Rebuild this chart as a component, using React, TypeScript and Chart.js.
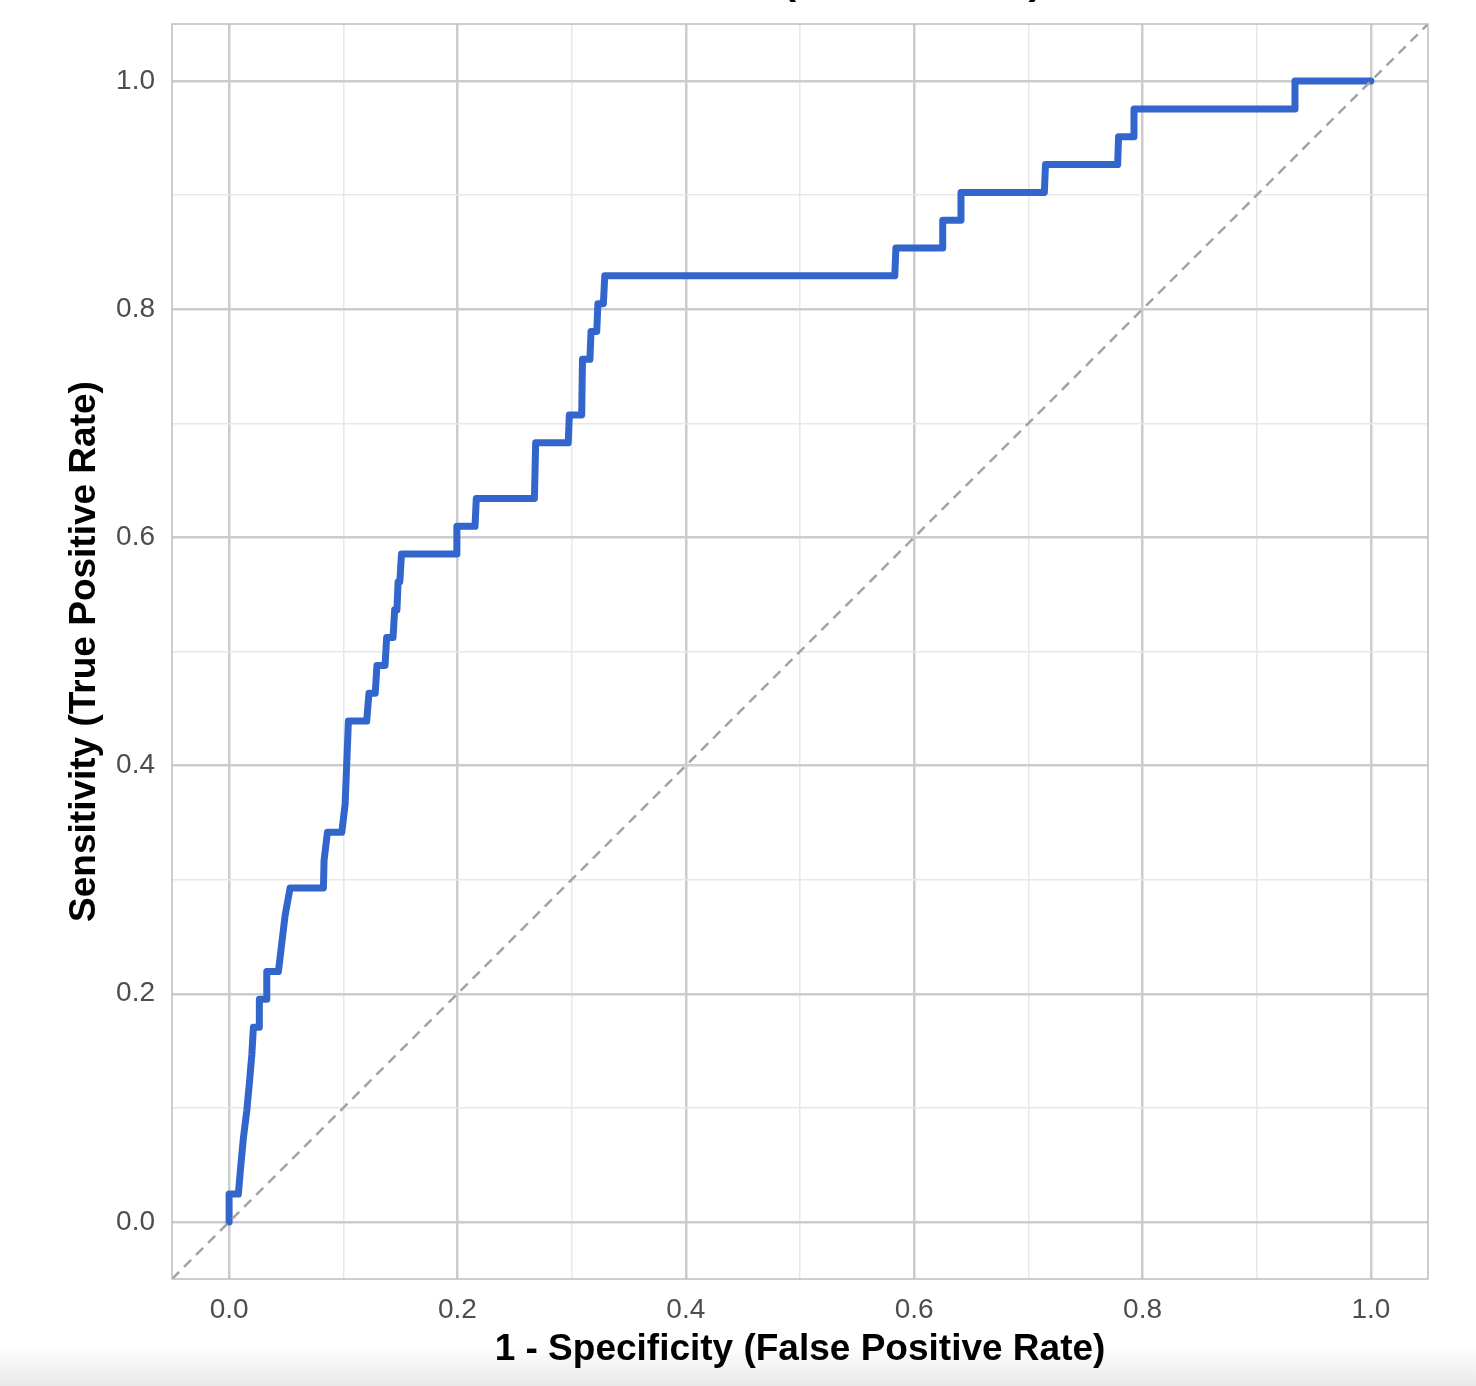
import React, { useEffect, useRef } from "react";
import { Chart, registerables } from "chart.js";

Chart.register(...registerables);

// ROC curve vertices (1 - specificity, sensitivity)
const fprValues = [
  0, 0, 0.0081, 0.0102, 0.0125, 0.0155, 0.0178, 0.0199, 0.0213, 0.0265, 0.0265,
  0.033, 0.033, 0.0432, 0.0461, 0.049, 0.0534, 0.0826, 0.0832, 0.0861, 0.0987,
  0.1016, 0.1045, 0.1205, 0.1225, 0.128, 0.1295, 0.1366, 0.138, 0.1436, 0.145,
  0.147, 0.148, 0.1495, 0.151, 0.1988, 0.1995, 0.2154, 0.2165, 0.2674, 0.2685,
  0.297, 0.298, 0.3088, 0.3095, 0.316, 0.317, 0.322, 0.323, 0.3278, 0.329,
  0.583, 0.584, 0.6245, 0.625, 0.6405, 0.641, 0.714, 0.715, 0.7782, 0.779,
  0.792, 0.7925, 0.9329, 0.9335, 1.0,
];
const tprValues = [
  0, 0.0244, 0.0244, 0.0488, 0.0732, 0.0976, 0.122, 0.1463, 0.1707, 0.1707, 0.1951,
  0.1951, 0.2195, 0.2195, 0.2439, 0.2683, 0.2927, 0.2927, 0.3171, 0.3415, 0.3415,
  0.3659, 0.439, 0.439, 0.4634, 0.4634, 0.4878, 0.4878, 0.5122, 0.5122, 0.5366,
  0.5366, 0.561, 0.561, 0.5854, 0.5854, 0.6098, 0.6098, 0.6341, 0.6341, 0.6829,
  0.6829, 0.7073, 0.7073, 0.7561, 0.7561, 0.7805, 0.7805, 0.8049, 0.8049, 0.8293,
  0.8293, 0.8537, 0.8537, 0.878, 0.878, 0.9024, 0.9024, 0.9268, 0.9268, 0.9512,
  0.9512, 0.9756, 0.9756, 1.0, 1.0,
];

// Reference diagonal (chance line)
const diagonalX = [-0.05, 1.05];
const diagonalY = [-0.05, 1.05];

// Axis ticks (every 0.1 gridline, labels at 0.2)
const tickValues = [0, 0.1, 0.2, 0.3, 0.4, 0.5, 0.6, 0.7, 0.8, 0.9, 1.0];
const tickLabels = ["0.0", "", "0.2", "", "0.4", "", "0.6", "", "0.8", "", "1.0"];

const axisMin = -0.05;
const axisMax = 1.05;

const chartTitle = "ROC Curve (AUC = 0.766)";
const xTitle = "1 - Specificity (False Positive Rate)";
const yTitle = "Sensitivity (True Positive Rate)";

const FONT = "'Liberation Sans', Arial, Helvetica, sans-serif";

export default function App() {
  const canvasRef = useRef<HTMLCanvasElement | null>(null);

  useEffect(() => {
    if (!canvasRef.current) return;

    const isMajor = (v: number) => Math.round(v * 10) % 2 === 0;
    const gridColor = (ctx: any) =>
      ctx.tick && isMajor(ctx.tick.value) ? "#cccccc" : "#e8e8e8";
    const gridWidth = (ctx: any) =>
      ctx.tick && isMajor(ctx.tick.value) ? 2.5 : 1.5;
    const setTicks = (scale: any) => {
      scale.ticks = tickValues.map((v) => ({ value: v }));
    };
    const tickCallback = (value: any) => {
      const i = tickValues.findIndex((t) => Math.abs(t - Number(value)) < 1e-6);
      return i >= 0 ? tickLabels[i] : "";
    };

    const borderPlugin = {
      id: "panelBorder",
      afterDraw(chart: any) {
        const { ctx, chartArea } = chart;
        ctx.save();
        ctx.strokeStyle = "#bdbdbd";
        ctx.lineWidth = 1.5;
        ctx.strokeRect(
          chartArea.left,
          chartArea.top,
          chartArea.right - chartArea.left,
          chartArea.bottom - chartArea.top
        );
        ctx.restore();
      },
    };

    const chart = new Chart(canvasRef.current, {
      type: "line",
      data: {
        datasets: [
          {
            label: "Chance",
            data: diagonalX.map((x, i) => ({ x, y: diagonalY[i] })),
            borderColor: "#a3a3a3",
            borderWidth: 2.5,
            borderDash: [10, 7],
            pointRadius: 0,
            fill: false,
            order: 0,
          },
          {
            label: "ROC",
            data: fprValues.map((x, i) => ({ x, y: tprValues[i] })),
            borderColor: "#3366CC",
            borderWidth: 7,
            borderCapStyle: "round",
            borderJoinStyle: "round",
            pointRadius: 0,
            fill: false,
            tension: 0,
            order: 1,
          },
        ],
      },
      options: {
        animation: false,
        responsive: false,
        maintainAspectRatio: false,
        layout: { padding: { left: 0, right: 48, top: 24, bottom: 0 } },
        plugins: {
          legend: { display: false },
          tooltip: { enabled: false },
          title: { display: false },
        },
        scales: {
          x: {
            type: "linear",
            min: axisMin,
            max: axisMax,
            afterBuildTicks: setTicks,
            afterFit: (scale: any) => {
              scale.height = 107;
              scale.paddingLeft = 0;
              scale.paddingRight = 0;
            },
            border: { display: false },
            grid: { color: gridColor, lineWidth: gridWidth, drawTicks: false },
            ticks: {
              autoSkip: false,
              maxRotation: 0,
              padding: 14,
              color: "#4d4d4d",
              font: { family: FONT, size: 28 },
              callback: tickCallback,
            },
            title: {
              display: true,
              text: xTitle,
              color: "#000000",
              font: { family: FONT, size: 37, weight: "bold" },
              padding: { top: 0, bottom: 14 },
            },
          },
          y: {
            type: "linear",
            min: axisMin,
            max: axisMax,
            afterBuildTicks: setTicks,
            afterFit: (scale: any) => {
              scale.width = 172;
              scale.paddingTop = 0;
              scale.paddingBottom = 0;
            },
            border: { display: false },
            grid: { color: gridColor, lineWidth: gridWidth, drawTicks: false },
            ticks: {
              autoSkip: false,
              padding: 17,
              color: "#4d4d4d",
              font: { family: FONT, size: 28 },
              callback: tickCallback,
            },
            title: {
              display: true,
              text: yTitle,
              color: "#000000",
              font: { family: FONT, size: 37, weight: "bold" },
              padding: { top: 63, bottom: 0 },
            },
          },
        },
      },
      plugins: [borderPlugin],
    });

    return () => {
      chart.destroy();
    };
  }, []);

  return (
    <div
      style={{
        position: "fixed",
        left: 0,
        top: 0,
        width: 1476,
        height: 1386,
        background: "#ffffff",
        overflow: "hidden",
      }}
    >
      <div
        style={{
          position: "absolute",
          left: 0,
          top: 1345,
          width: 1476,
          height: 41,
          background: "linear-gradient(to bottom, rgba(255,255,255,0), #e9e9e9)",
        }}
      />
      <div
        style={{
          position: "absolute",
          left: 172,
          width: 1256,
          top: -40,
          height: 40,
          lineHeight: "40px",
          fontSize: 40,
          fontWeight: "bold",
          fontFamily: FONT,
          textAlign: "center",
          color: "#000000",
          whiteSpace: "nowrap",
        }}
      >
        {chartTitle}
      </div>
      <canvas
        ref={canvasRef}
        width={1476}
        height={1386}
        style={{ position: "absolute", left: 0, top: 0, width: 1476, height: 1386 }}
      />
    </div>
  );
}
